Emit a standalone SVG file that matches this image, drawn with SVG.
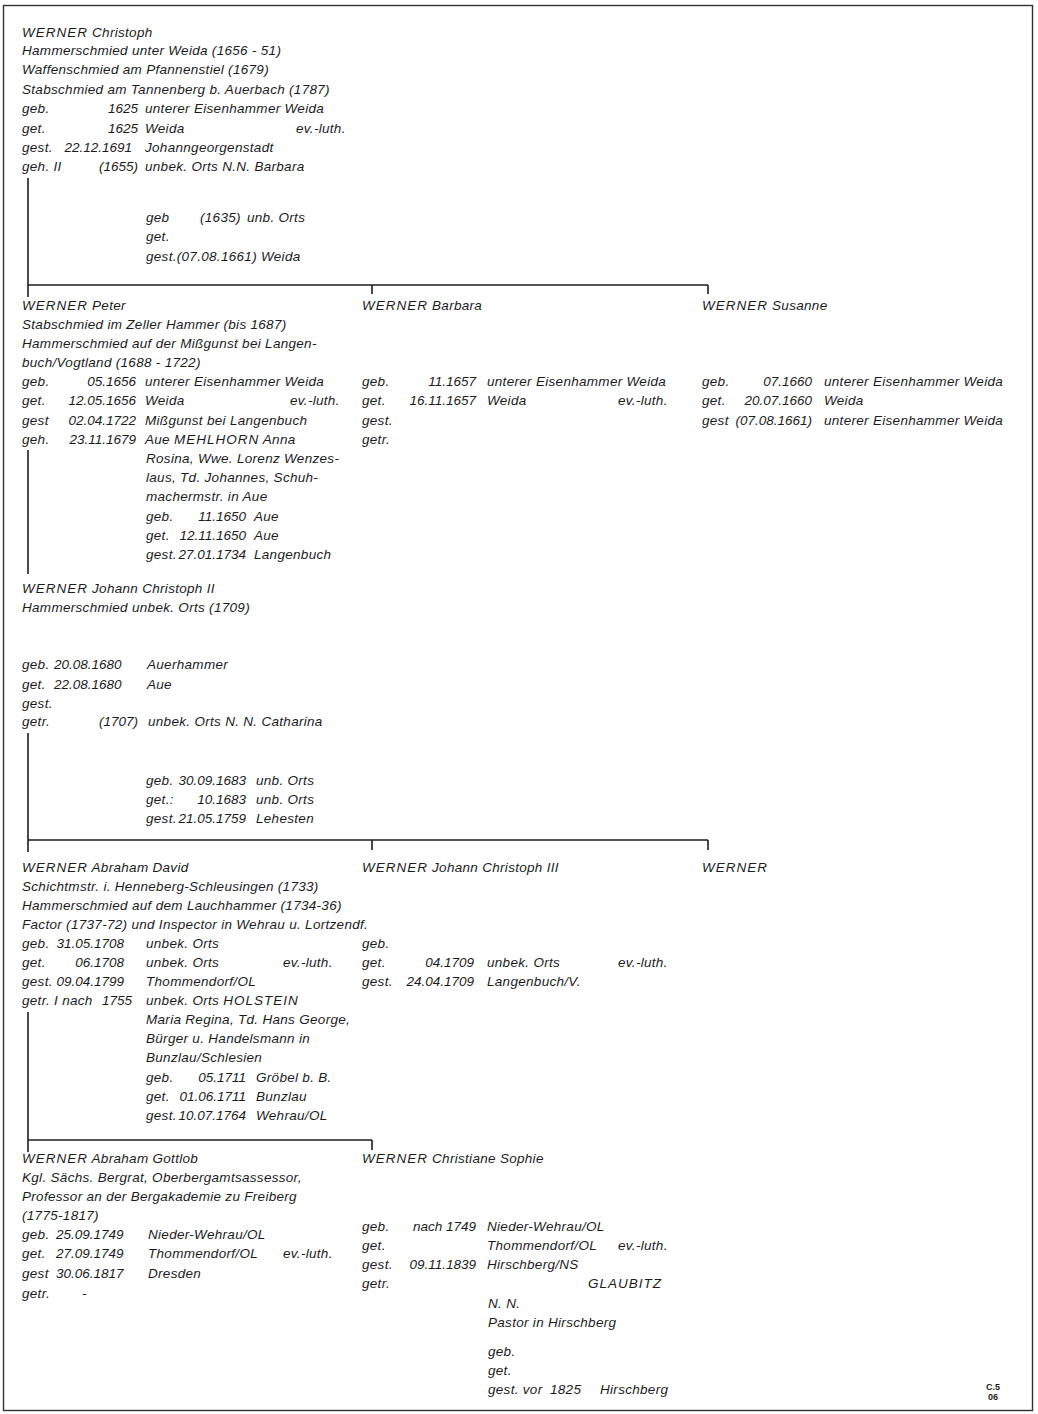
<svg xmlns="http://www.w3.org/2000/svg" width="1038" height="1414" viewBox="0 0 1038 1414">
<style>
text{font-family:"Liberation Sans",Arial,sans-serif;font-style:italic;font-size:13.5px;letter-spacing:0.3px;fill:#1c1c1c}
.d{text-anchor:end;letter-spacing:0}
.n{letter-spacing:0}
.w{letter-spacing:1px}
.sm{font-size:9px;font-weight:bold;font-style:normal;text-anchor:middle;letter-spacing:0}
.ln{stroke:#1e1e1e;stroke-width:1.6;fill:none}
.fr{stroke:#333;stroke-width:1.4;fill:none}
</style>
<rect width="1038" height="1414" fill="#fff"/>
<rect class="fr" x="3.5" y="5.5" width="1029" height="1405"/>

<g id="connectors">
<path class="ln" d="M28 178 V297 M28 285 H708 M372 285 V294 M708 285 V294"/>
<path class="ln" d="M28 450 V574"/>
<path class="ln" d="M28 733 V852 M28 840 H708 M372 840 V850 M708 840 V850"/>
<path class="ln" d="M28 1012 V1152 M28 1140 H372 M372 1140 V1150"/>
</g>

<g id="werner-christoph">
<text x="22" y="37"><tspan class="w">WERNER</tspan> Christoph</text>
<text x="22" y="55">Hammerschmied unter Weida (1656 - 51)</text>
<text x="22" y="74">Waffenschmied am Pfannenstiel (1679)</text>
<text x="22" y="94">Stabschmied am Tannenberg b. Auerbach (1787)</text>
<text x="22" y="113">geb.</text><text class="d" x="138" y="113">1625</text><text x="145" y="113">unterer Eisenhammer Weida</text>
<text x="22" y="133">get.</text><text class="d" x="138" y="133">1625</text><text x="145" y="133">Weida</text><text x="296" y="133">ev.-luth.</text>
<text x="22" y="152">gest.</text><text class="d" x="132" y="152">22.12.1691</text><text x="145" y="152">Johanngeorgenstadt</text>
<text x="22" y="171">geh. II</text><text class="d" x="138" y="171">(1655)</text><text x="145" y="171">unbek. Orts N.N. Barbara</text>
<text x="146" y="222">geb</text><text x="200" y="222">(1635)</text><text x="247" y="222">unb. Orts</text>
<text x="146" y="241">get.</text>
<text x="146" y="261">gest.(07.08.1661) Weida</text>
</g>

<g id="werner-peter">
<text x="22" y="310"><tspan class="w">WERNER</tspan> Peter</text>
<text x="22" y="329">Stabschmied im Zeller Hammer (bis 1687)</text>
<text x="22" y="348">Hammerschmied auf der Mißgunst bei Langen-</text>
<text x="22" y="367">buch/Vogtland (1688 - 1722)</text>
<text x="22" y="386">geb.</text><text class="d" x="136" y="386">05.1656</text><text x="145" y="386">unterer Eisenhammer Weida</text>
<text x="22" y="405">get.</text><text class="d" x="136" y="405">12.05.1656</text><text x="145" y="405">Weida</text><text x="290" y="405">ev.-luth.</text>
<text x="22" y="425">gest</text><text class="d" x="136" y="425">02.04.1722</text><text x="145" y="425">Mißgunst bei Langenbuch</text>
<text x="22" y="444">geh.</text><text class="d" x="136" y="444">23.11.1679</text><text x="145" y="444">Aue <tspan class="w">MEHLHORN</tspan> Anna</text>
<text x="146" y="463">Rosina, Wwe. Lorenz Wenzes-</text>
<text x="146" y="482">laus, Td. Johannes, Schuh-</text>
<text x="146" y="501">machermstr. in Aue</text>
<text x="146" y="521">geb.</text><text class="d" x="246" y="521">11.1650</text><text x="254" y="521">Aue</text>
<text x="146" y="540">get.</text><text class="d" x="246" y="540">12.11.1650</text><text x="254" y="540">Aue</text>
<text x="146" y="559">gest.</text><text class="d" x="246" y="559">27.01.1734</text><text x="254" y="559">Langenbuch</text>
</g>

<g id="werner-barbara">
<text x="362" y="310"><tspan class="w">WERNER</tspan> Barbara</text>
<text x="362" y="386">geb.</text><text class="d" x="476" y="386">11.1657</text><text x="487" y="386">unterer Eisenhammer Weida</text>
<text x="362" y="405">get.</text><text class="d" x="476" y="405">16.11.1657</text><text x="487" y="405">Weida</text><text x="618" y="405">ev.-luth.</text>
<text x="362" y="425">gest.</text>
<text x="362" y="444">getr.</text>
</g>

<g id="werner-susanne">
<text x="702" y="310"><tspan class="w">WERNER</tspan> Susanne</text>
<text x="702" y="386">geb.</text><text class="d" x="812" y="386">07.1660</text><text x="824" y="386">unterer Eisenhammer Weida</text>
<text x="702" y="405">get.</text><text class="d" x="812" y="405">20.07.1660</text><text x="824" y="405">Weida</text>
<text x="702" y="425">gest</text><text class="d" x="812" y="425">(07.08.1661)</text><text x="824" y="425">unterer Eisenhammer Weida</text>
</g>

<g id="werner-johann-christoph-ii">
<text x="22" y="593"><tspan class="w">WERNER</tspan> Johann Christoph II</text>
<text x="22" y="612">Hammerschmied unbek. Orts (1709)</text>
<text x="22" y="669">geb.</text><text class="n" x="54" y="669">20.08.1680</text><text x="147" y="669">Auerhammer</text>
<text x="22" y="689">get.</text><text class="n" x="54" y="689">22.08.1680</text><text x="147" y="689">Aue</text>
<text x="22" y="708">gest.</text>
<text x="22" y="726">getr.</text><text class="d" x="138" y="726">(1707)</text><text x="148" y="726">unbek. Orts N. N. Catharina</text>
<text x="146" y="785">geb.</text><text class="d" x="246" y="785">30.09.1683</text><text x="256" y="785">unb. Orts</text>
<text x="146" y="804">get.:</text><text class="d" x="246" y="804">10.1683</text><text x="256" y="804">unb. Orts</text>
<text x="146" y="823">gest.</text><text class="d" x="246" y="823">21.05.1759</text><text x="256" y="823">Lehesten</text>
</g>

<g id="werner-abraham-david">
<text x="22" y="872"><tspan class="w">WERNER</tspan> Abraham David</text>
<text x="22" y="891">Schichtmstr. i. Henneberg-Schleusingen (1733)</text>
<text x="22" y="910">Hammerschmied auf dem Lauchhammer (1734-36)</text>
<text x="22" y="929">Factor (1737-72) und Inspector in Wehrau u. Lortzendf.</text>
<text x="22" y="948">geb.</text><text class="d" x="124" y="948">31.05.1708</text><text x="146" y="948">unbek. Orts</text>
<text x="22" y="967">get.</text><text class="d" x="124" y="967">06.1708</text><text x="146" y="967">unbek. Orts</text><text x="283" y="967">ev.-luth.</text>
<text x="22" y="986">gest.</text><text class="d" x="124" y="986">09.04.1799</text><text x="146" y="986">Thommendorf/OL</text>
<text x="22" y="1005">getr. I nach</text><text class="d" x="132" y="1005">1755</text><text x="146" y="1005">unbek. Orts <tspan class="w">HOLSTEIN</tspan></text>
<text x="146" y="1024">Maria Regina, Td. Hans George,</text>
<text x="146" y="1043">Bürger u. Handelsmann in</text>
<text x="146" y="1062">Bunzlau/Schlesien</text>
<text x="146" y="1082">geb.</text><text class="d" x="246" y="1082">05.1711</text><text x="256" y="1082">Gröbel b. B.</text>
<text x="146" y="1101">get.</text><text class="d" x="246" y="1101">01.06.1711</text><text x="256" y="1101">Bunzlau</text>
<text x="146" y="1120">gest.</text><text class="d" x="246" y="1120">10.07.1764</text><text x="256" y="1120">Wehrau/OL</text>
</g>

<g id="werner-johann-christoph-iii">
<text x="362" y="872"><tspan class="w">WERNER</tspan> Johann Christoph III</text>
<text x="362" y="948">geb.</text>
<text x="362" y="967">get.</text><text class="d" x="474" y="967">04.1709</text><text x="487" y="967">unbek. Orts</text><text x="618" y="967">ev.-luth.</text>
<text x="362" y="986">gest.</text><text class="d" x="474" y="986">24.04.1709</text><text x="487" y="986">Langenbuch/V.</text>
</g>

<g id="werner-3">
<text x="702" y="872"><tspan class="w">WERNER</tspan></text>
</g>

<g id="werner-abraham-gottlob">
<text x="22" y="1163"><tspan class="w">WERNER</tspan> Abraham Gottlob</text>
<text x="22" y="1182">Kgl. Sächs. Bergrat, Oberbergamtsassessor,</text>
<text x="22" y="1201">Professor an der Bergakademie zu Freiberg</text>
<text x="22" y="1220">(1775-1817)</text>
<text x="22" y="1239">geb.</text><text class="n" x="56" y="1239">25.09.1749</text><text x="148" y="1239">Nieder-Wehrau/OL</text>
<text x="22" y="1258">get.</text><text class="n" x="56" y="1258">27.09.1749</text><text x="148" y="1258">Thommendorf/OL</text><text x="283" y="1258">ev.-luth.</text>
<text x="22" y="1278">gest</text><text class="n" x="56" y="1278">30.06.1817</text><text x="148" y="1278">Dresden</text>
<text x="22" y="1298">getr.</text><text x="82" y="1298">-</text>
</g>

<g id="werner-christiane-sophie">
<text x="362" y="1163"><tspan class="w">WERNER</tspan> Christiane Sophie</text>
<text x="362" y="1231">geb.</text><text class="d" x="476" y="1231">nach 1749</text><text x="487" y="1231">Nieder-Wehrau/OL</text>
<text x="362" y="1250">get.</text><text x="487" y="1250">Thommendorf/OL</text><text x="618" y="1250">ev.-luth.</text>
<text x="362" y="1269">gest.</text><text class="d" x="476" y="1269">09.11.1839</text><text x="487" y="1269">Hirschberg/NS</text>
<text x="362" y="1288">getr.</text><text x="588" y="1288" class="w">GLAUBITZ</text>
<text x="488" y="1308">N. N.</text>
<text x="488" y="1327">Pastor in Hirschberg</text>
<text x="488" y="1356">geb.</text>
<text x="488" y="1375">get.</text>
<text x="488" y="1394">gest. vor</text><text x="550" y="1394">1825</text><text x="600" y="1394">Hirschberg</text>
</g>

<text class="sm" x="993" y="1390">C.5</text>
<text class="sm" x="993" y="1400">06</text>
</svg>
